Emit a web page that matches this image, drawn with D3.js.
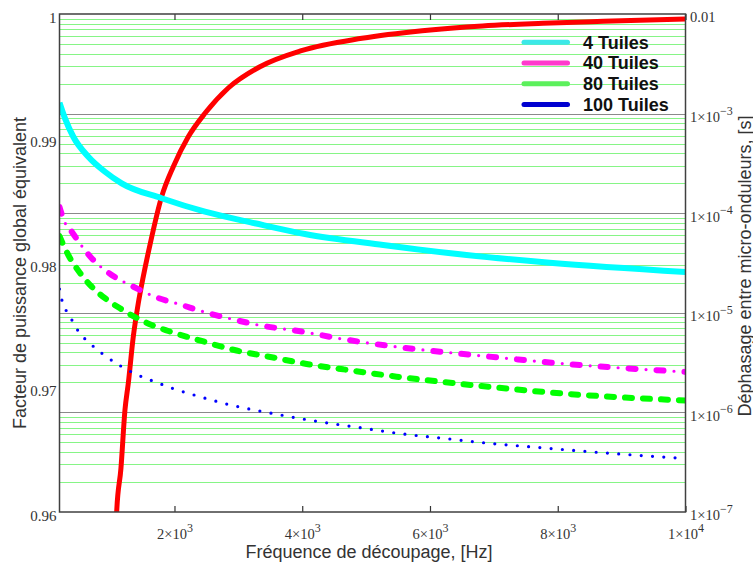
<!DOCTYPE html>
<html>
<head>
<meta charset="utf-8">
<script src="https://cdn.jsdelivr.net/npm/d3@7"></script>
<style>
  body { margin: 0; background: #fff; }
</style>
</head>
<body>
<div id="chart"></div>
<script>
// ---- data ----
const freqTicks = [2000, 4000, 6000, 8000, 10000];
const pfTicks = [0.96, 0.97, 0.98, 0.99, 1];
const delayTicks = [1e-7, 1e-6, 1e-5, 1e-4, 1e-3, 1e-2];
const seriesNames = ["4 Tuiles", "40 Tuiles", "80 Tuiles", "100 Tuiles"];

// 4 tuiles (cyan, solid)
const freq4 = [200, 286, 416, 651, 912, 1173, 1799, 2477, 3259, 4042, 5267, 6572, 7876, 10000];
const pf4 = [0.99288, 0.99162, 0.99014, 0.98854, 0.98733, 0.98640, 0.98520, 0.98412, 0.98319, 0.98233, 0.98145, 0.98064, 0.98002, 0.97928];

// 40 tuiles (magenta, dash-dot)
const freq40 = [200, 267, 391, 704, 1017, 1355, 1695, 2112, 2504, 2895, 3311, 4011, 4563, 5450, 6363, 7261, 7677, 10000];
const pf40 = [0.98450, 0.98345, 0.98251, 0.98038, 0.97904, 0.97810, 0.97729, 0.97663, 0.97601, 0.97550, 0.97502, 0.97448, 0.97395, 0.97328, 0.97277, 0.97231, 0.97210, 0.97125];

// 80 tuiles (green, dashed)
const freq80 = [200, 338, 521, 704, 912, 1147, 1382, 1643, 1903, 2425, 2973, 3521, 4068, 4641, 5477, 6390, 7277, 7825, 10000];
const pf80 = [0.98215, 0.98064, 0.97920, 0.97810, 0.97717, 0.97636, 0.97566, 0.97502, 0.97454, 0.97374, 0.97297, 0.97243, 0.97189, 0.97146, 0.97087, 0.97034, 0.96988, 0.96962, 0.96896];

// 100 tuiles (blue, dotted)
const freq100 = [200, 234, 313, 416, 505, 635, 870, 1131, 1382, 1663, 1965, 2305, 2884, 3521, 4172, 4867, 5544, 6260, 6980, 7657, 8310, 9014, 10000];
const pf100 = [0.97791, 0.97709, 0.97609, 0.97524, 0.97443, 0.97374, 0.97272, 0.97181, 0.97111, 0.97052, 0.96994, 0.96940, 0.96859, 0.96793, 0.96733, 0.96680, 0.96629, 0.96589, 0.96549, 0.96520, 0.96492, 0.96464, 0.96430];

// phase shift between micro-inverters (red, right log axis)
const freqDelay = [1080, 1095, 1162, 1225, 1277, 1355, 1433, 1511, 1616, 1799, 1981, 2216, 2477, 2842, 3338, 3987, 4934, 5878, 6823, 7768, 8713, 10000];
const delay = [4e-8, 1.0e-7, 2.75e-7, 1.06e-6, 1.96e-6, 5.75e-6, 1.245e-5, 2.30e-5, 4.80e-5, 1.466e-4, 2.93e-4, 5.86e-4, 1.007e-3, 1.807e-3, 2.958e-3, 4.285e-3, 5.70e-3, 6.79e-3, 7.59e-3, 8.07e-3, 8.45e-3, 8.91e-3];

(function () {
  "use strict";

  const W = 753, H = 563;
  const M = { l: 59.5, r: 685.5, t: 14, b: 512 };
  const SANS = "'Liberation Sans', Arial, sans-serif";
  const SERIF = "'Liberation Serif', 'Times New Roman', serif";
  const INK = "#333";

  const svg = d3.select("#chart").append("svg")
    .attr("width", W).attr("height", H);
  svg.append("rect").attr("width", W).attr("height", H).attr("fill", "#fff");

  const x = d3.scaleLinear().domain([200, 10000]).range([M.l, M.r]);
  const yL = d3.scaleLinear().domain([0.96, 1]).range([M.b, M.t]);
  const yR = d3.scaleLog().domain([1e-7, 1e-2]).range([M.b, M.t]);

  // horizontal grid from the right (log) axis: green minors, grey decades
  const isDecade = v => delayTicks.some(t => Math.abs(t - v) / t < 1e-6);
  const grid = svg.append("g");
  grid.selectAll("line.minor")
    .data(yR.ticks().filter(v => !isDecade(v)))
    .join("line").attr("class", "minor")
    .attr("x1", M.l).attr("x2", M.r)
    .attr("y1", d => Math.round(yR(d)) + 0.5).attr("y2", d => Math.round(yR(d)) + 0.5)
    .attr("stroke", "#86f586").attr("stroke-width", 1.2);
  grid.selectAll("line.major")
    .data(delayTicks.slice(1, -1))
    .join("line").attr("class", "major")
    .attr("x1", M.l).attr("x2", M.r)
    .attr("y1", d => Math.round(yR(d)) + 0.5).attr("y2", d => Math.round(yR(d)) + 0.5)
    .attr("stroke", "#8a8a8a").attr("stroke-width", 1.2);

  // clip for the traces
  svg.append("defs").append("clipPath").attr("id", "plot-clip")
    .append("rect").attr("x", M.l).attr("y", M.t)
    .attr("width", M.r - M.l).attr("height", M.b - M.t);
  const plot = svg.append("g").attr("clip-path", "url(#plot-clip)");

  const lineL = d3.line().x(d => x(d[0])).y(d => yL(d[1])).curve(d3.curveMonotoneX);
  const lineR = d3.line().x(d => x(d[0])).y(d => yR(d[1])).curve(d3.curveMonotoneX);

  // red first (it sits under the others)
  plot.append("path").attr("d", lineR(d3.zip(freqDelay, delay)))
    .attr("fill", "none").attr("stroke", "#ff0000").attr("stroke-width", 5);

  // 4 tuiles
  plot.append("path").attr("d", lineL(d3.zip(freq4, pf4)))
    .attr("fill", "none").attr("stroke", "#00ffff").attr("stroke-width", 6);

  // 40 tuiles: thick dashes + small dots
  const d40 = lineL(d3.zip(freq40, pf40));
  plot.append("path").attr("d", d40)
    .attr("fill", "none").attr("stroke", "#ff00ff").attr("stroke-width", 6)
    .attr("stroke-linecap", "round").attr("stroke-dasharray", "7 21");
  plot.append("path").attr("d", d40)
    .attr("fill", "none").attr("stroke", "#ff00ff").attr("stroke-width", 3.2)
    .attr("stroke-linecap", "round").attr("stroke-dasharray", "0 28").attr("stroke-dashoffset", 10.5);

  // 80 tuiles: dashes
  plot.append("path").attr("d", lineL(d3.zip(freq80, pf80)))
    .attr("fill", "none").attr("stroke", "#00ff00").attr("stroke-width", 6)
    .attr("stroke-linecap", "round").attr("stroke-dasharray", "7 11");

  // 100 tuiles: dots
  plot.append("path").attr("d", lineL(d3.zip(freq100, pf100)))
    .attr("fill", "none").attr("stroke", "#0000ff").attr("stroke-width", 3.2)
    .attr("stroke-linecap", "round").attr("stroke-dasharray", "0 11.3");

  // superscript labels like 2×10^3
  function sciLabel(text, d) {
    const e = Math.floor(Math.log10(d) + 1e-9);
    const m = Math.round(d / Math.pow(10, e));
    text.text(null);
    text.append("tspan").text(m + "\u00d710");
    text.append("tspan").attr("dy", "-0.62em").attr("font-size", "12px")
      .text(e < 0 ? "\u2212" + (-e) : String(e));
  }

  // bottom axis
  const xAxis = svg.append("g").attr("transform", `translate(0,${M.b})`)
    .call(d3.axisBottom(x).tickValues(freqTicks).tickSizeInner(-6).tickSizeOuter(0).tickPadding(17));
  xAxis.select(".domain").remove();
  xAxis.attr("font-family", SERIF).attr("font-size", 14.5);
  xAxis.selectAll(".tick line").attr("stroke", INK).attr("stroke-width", 1.2);
  xAxis.selectAll(".tick text").attr("fill", INK).each(function (d) { sciLabel(d3.select(this), d); });

  // top axis: ticks only
  const xTop = svg.append("g").attr("transform", `translate(0,${M.t})`)
    .call(d3.axisTop(x).tickValues(freqTicks).tickSizeInner(-6).tickSizeOuter(0).tickFormat(""));
  xTop.select(".domain").remove();
  xTop.selectAll(".tick line").attr("stroke", INK).attr("stroke-width", 1.2);

  // left axis
  const yAxisL = svg.append("g").attr("transform", `translate(${M.l},0)`)
    .call(d3.axisLeft(yL).tickValues(pfTicks).tickSize(0).tickPadding(3)
      .tickFormat(d => d === 1 ? "1" : d.toFixed(2)));
  yAxisL.select(".domain").remove();
  yAxisL.attr("font-family", SERIF).attr("font-size", 15);
  yAxisL.selectAll(".tick text").attr("fill", INK).attr("dy", "0.55em");

  // right axis
  const yAxisR = svg.append("g").attr("transform", `translate(${M.r},0)`)
    .call(d3.axisRight(yR).tickValues(delayTicks).tickSize(0).tickPadding(4.5));
  yAxisR.select(".domain").remove();
  yAxisR.attr("font-family", SERIF).attr("font-size", 14.5);
  yAxisR.selectAll(".tick text").attr("fill", INK).attr("dy", "0.55em")
    .each(function (d) {
      if (d === 1e-2) d3.select(this).text("0.01");
      else sciLabel(d3.select(this), d);
    });

  // frame
  svg.append("rect").attr("x", M.l).attr("y", M.t)
    .attr("width", M.r - M.l).attr("height", M.b - M.t)
    .attr("fill", "none").attr("stroke", "#404040").attr("stroke-width", 1.5);

  // titles
  svg.append("text").attr("x", 369).attr("y", 558)
    .attr("text-anchor", "middle").attr("font-family", SANS).attr("font-size", 18).attr("fill", INK)
    .text("Fréquence de découpage, [Hz]");
  svg.append("text").attr("transform", "translate(26,273) rotate(-90)")
    .attr("text-anchor", "middle").attr("font-family", SANS).attr("font-size", 18).attr("fill", INK)
    .text("Facteur de puissance global équivalent");
  svg.append("text").attr("transform", "translate(751,266) rotate(-90)")
    .attr("text-anchor", "middle").attr("font-family", SANS).attr("font-size", 18).attr("fill", INK)
    .text("Déphasage entre micro-onduleurs, [s]");

  // legend
  const legendColors = ["#3ce8e8", "#ff3acc", "#5cf05c", "#0000d0"];
  const legend = svg.append("g");
  seriesNames.forEach((name, i) => {
    const cy = 42.3 + i * 20.7;
    legend.append("line").attr("x1", 524).attr("x2", 567.5).attr("y1", cy).attr("y2", cy)
      .attr("stroke", legendColors[i]).attr("stroke-width", 5).attr("stroke-linecap", "round");
    legend.append("text").attr("x", 583).attr("y", cy + 6.4)
      .attr("font-family", SANS).attr("font-weight", "bold").attr("font-size", 18).attr("fill", "#111")
      .text(name);
  });
})();
</script>
</body>
</html>
